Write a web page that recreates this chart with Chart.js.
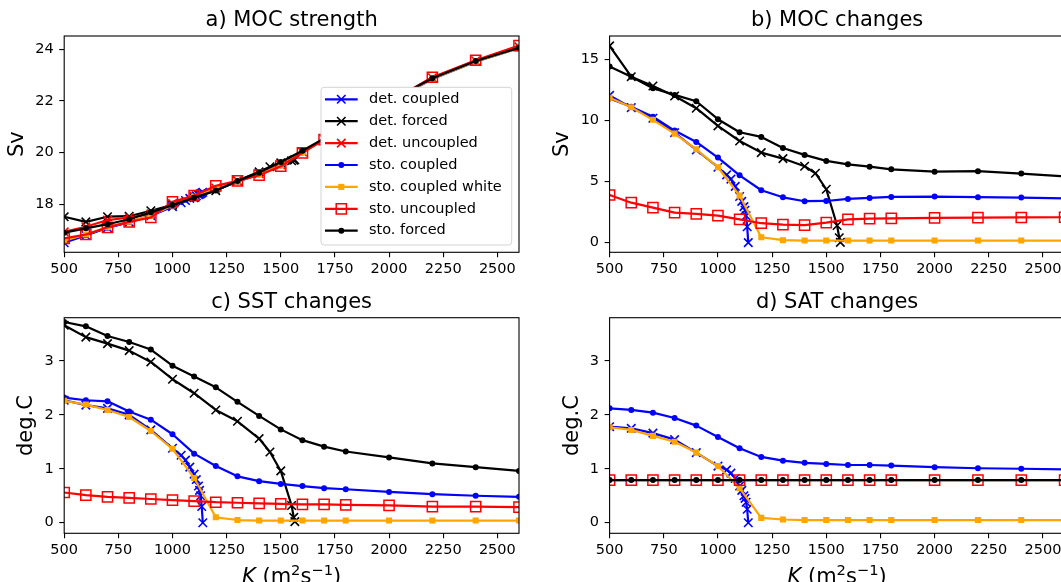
<!DOCTYPE html>
<html>
<head>
<meta charset="utf-8">
<script src="https://cdn.jsdelivr.net/npm/chart.js@4.4.1/dist/chart.umd.min.js"></script>
<style>
  html, body { margin: 0; padding: 0; background: #fff; overflow: hidden; }
  #fig { position: relative; width: 1061px; height: 582px; overflow: hidden; background: #fff; }
  #fig canvas { position: absolute; }
</style>
</head>
<body>
<div id="fig">
  <canvas id="pa" width="530" height="290" style="left:0px;top:0px;width:530px;height:290px"></canvas>
  <canvas id="pb" width="545" height="290" style="left:530px;top:0px;width:545px;height:290px"></canvas>
  <canvas id="pc" width="530" height="292" style="left:0px;top:290px;width:530px;height:292px"></canvas>
  <canvas id="pd" width="545" height="292" style="left:530px;top:290px;width:545px;height:292px"></canvas>
</div>
<script>
// ---- diffusivity values (m^2 s^-1) ----
const kSto = [500, 600, 700, 800, 900, 1000, 1100, 1200, 1300, 1400, 1500, 1600, 1700, 1800, 2000, 2200, 2400, 2600];
const kDetCoupled = [500, 600, 700, 800, 900, 1000, 1040, 1060, 1080, 1100, 1110, 1120, 1125, 1130, 1135, 1140];
const kDetForced = [500, 600, 700, 800, 900, 1000, 1100, 1200, 1300, 1400, 1450, 1500, 1550, 1560, 1565];
const kDetUncoupled = [500, 600, 700, 800, 900, 1000, 1100, 1200, 1300, 1400, 1500, 1600, 1700, 1800, 2000, 2200, 2400, 2600];

// ---- a) MOC strength (Sv) ----
const mocDetCoupled = [16.5, 16.78, 17.08, 17.3, 17.55, 17.9, 18.05, 18.14, 18.22, 18.28, 18.32, 18.36, 18.38, 18.4, 18.43, 18.46];
const mocDetForced = [17.51, 17.31, 17.51, 17.53, 17.74, 17.97, 18.25, 18.52, 18.9, 19.25, 19.45, 19.6, 19.68, 19.7, 19.72];
const mocDetUncoupled = [16.92, 17.12, 17.38, 17.48, 17.62, 18.02, 18.3, 18.62, 18.9, 19.18, 19.52, 20.02, 20.52, 21.0, 21.95, 22.9, 23.56, 24.1];
const mocStoCoupled = [16.55, 16.8, 17.08, 17.3, 17.55, 17.92, 18.25, 18.55, 18.87, 19.15, 19.5, 20.0, 20.5, 20.98, 21.93, 22.85, 23.52, 24.05];
const mocStoWhite = [16.58, 16.82, 17.1, 17.32, 17.55, 17.95, 18.28, 18.6, 18.88, 19.15, 19.5, 20.0, 20.5, 20.98, 21.93, 22.86, 23.53, 24.05];
const mocStoUncoupled = [16.67, 16.82, 17.1, 17.31, 17.48, 18.09, 18.33, 18.71, 18.9, 19.12, 19.47, 19.99, 20.5, 20.98, 21.95, 22.92, 23.58, 24.15];
const mocStoForced = [16.89, 17.06, 17.22, 17.41, 17.68, 17.96, 18.25, 18.53, 18.9, 19.23, 19.63, 20.07, 20.55, 21.02, 21.98, 22.88, 23.55, 24.06];

// ---- b) MOC changes (Sv) ----
const dMocDetCoupled = [12.05, 11.05, 10.18, 9.0, 7.58, 6.17, 5.55, 5.2, 4.6, 3.78, 3.38, 2.95, 2.65, 2.2, 1.3, 0.0];
const dMocDetForced = [16.1, 13.58, 12.82, 12.0, 11.0, 9.55, 8.32, 7.37, 6.88, 6.25, 5.68, 4.37, 1.4, 0.4, 0.02];
const dMocStoCoupled = [11.8, 11.13, 10.31, 9.17, 8.24, 6.96, 5.51, 4.29, 3.71, 3.39, 3.41, 3.58, 3.66, 3.74, 3.77, 3.72, 3.69, 3.62];
const dMocStoWhite = [11.85, 11.08, 10.05, 8.92, 7.64, 6.17, 3.85, 0.44, 0.2, 0.17, 0.17, 0.17, 0.17, 0.17, 0.17, 0.17, 0.17, 0.17];
const dMocStoUncoupled = [3.9, 3.27, 2.87, 2.46, 2.35, 2.21, 1.91, 1.59, 1.48, 1.44, 1.64, 1.9, 1.96, 1.99, 2.02, 2.05, 2.06, 2.08];
const dMocStoForced = [14.42, 13.58, 12.63, 12.09, 11.57, 10.1, 9.03, 8.65, 7.75, 7.18, 6.69, 6.41, 6.22, 6.0, 5.81, 5.85, 5.65, 5.43];

// ---- c) SST changes (deg.C) ----
const dSstDetCoupled = [2.27, 2.18, 2.12, 2.0, 1.72, 1.38, 1.25, 1.16, 1.03, 0.9, 0.8, 0.68, 0.6, 0.5, 0.3, 0.0];
const dSstDetForced = [3.66, 3.44, 3.32, 3.19, 2.98, 2.66, 2.4, 2.09, 1.88, 1.56, 1.31, 0.96, 0.32, 0.1, 0.02];
const dSstStoCoupled = [2.32, 2.27, 2.25, 2.06, 1.91, 1.64, 1.28, 1.05, 0.86, 0.77, 0.72, 0.68, 0.64, 0.62, 0.57, 0.53, 0.5, 0.48];
const dSstStoWhite = [2.26, 2.19, 2.09, 1.96, 1.7, 1.37, 0.83, 0.1, 0.05, 0.04, 0.04, 0.04, 0.04, 0.04, 0.04, 0.04, 0.04, 0.04];
const dSstStoUncoupled = [0.56, 0.51, 0.48, 0.46, 0.44, 0.42, 0.4, 0.38, 0.37, 0.36, 0.35, 0.34, 0.34, 0.33, 0.32, 0.3, 0.3, 0.29];
const dSstStoForced = [3.72, 3.64, 3.46, 3.35, 3.21, 2.91, 2.71, 2.51, 2.24, 1.98, 1.73, 1.53, 1.41, 1.32, 1.21, 1.1, 1.03, 0.96];

// ---- d) SAT changes (deg.C) ----
const dSatDetCoupled = [1.78, 1.75, 1.66, 1.54, 1.3, 1.05, 0.98, 0.92, 0.82, 0.68, 0.6, 0.5, 0.45, 0.38, 0.25, 0.0];
const dSatStoCoupled = [2.12, 2.09, 2.04, 1.94, 1.8, 1.59, 1.38, 1.22, 1.15, 1.11, 1.09, 1.07, 1.07, 1.06, 1.03, 1.01, 1.0, 0.99];
const dSatStoWhite = [1.77, 1.72, 1.61, 1.5, 1.3, 1.05, 0.64, 0.09, 0.06, 0.05, 0.05, 0.05, 0.05, 0.05, 0.05, 0.05, 0.05, 0.05];
const dSatStoUncoupled = [0.79, 0.79, 0.79, 0.79, 0.79, 0.79, 0.79, 0.79, 0.79, 0.79, 0.79, 0.79, 0.79, 0.79, 0.79, 0.79, 0.79, 0.79];
const dSatStoForced = [0.79, 0.79, 0.79, 0.79, 0.79, 0.79, 0.79, 0.79, 0.79, 0.79, 0.79, 0.79, 0.79, 0.79, 0.79, 0.79, 0.79, 0.79];

// ---- axis ticks, limits and text ----
const kTicks = [500, 750, 1000, 1250, 1500, 1750, 2000, 2250, 2500];
const kLimits = [500, 2600];
const mocTicks = [18, 20, 22, 24];
const mocLimits = [16.13, 24.52];
const dMocTicks = [0, 5, 10, 15];
const dMocLimits = [-0.79, 16.91];
const tempTicks = [0, 1, 2, 3];
const tempLimits = [-0.196, 3.8];
const panelTitles = ['a) MOC strength', 'b) MOC changes', 'c) SST changes', 'd) SAT changes'];
const yLabels = ['Sv', 'Sv', 'deg.C', 'deg.C'];

// ---- line / marker styles per experiment ----
const FONT = '"DejaVu Sans", "Liberation Sans", sans-serif';
const styles = {
  detCoupled:   { label: 'det. coupled',       color: '#0000ff', point: 'crossRot', r: 6,   pbw: 1.6 },
  detForced:    { label: 'det. forced',        color: '#000000', point: 'crossRot', r: 6,   pbw: 1.6 },
  detUncoupled: { label: 'det. uncoupled',     color: '#ff0000', point: 'crossRot', r: 6,   pbw: 1.6 },
  stoCoupled:   { label: 'sto. coupled',       color: '#0000ff', point: 'circle',   r: 3,   pbw: 0 },
  stoWhite:     { label: 'sto. coupled white', color: '#ffa500', point: 'rect',     r: 4.3, pbw: 0 },
  stoUncoupled: { label: 'sto. uncoupled',     color: '#ff0000', point: 'rect',     r: 7.2, pbw: 1.5, hollow: true },
  stoForced:    { label: 'sto. forced',        color: '#000000', point: 'circle',   r: 3,   pbw: 0 }
};
const plotOrder = ['detCoupled', 'detForced', 'detUncoupled', 'stoCoupled', 'stoWhite', 'stoUncoupled', 'stoForced'];

function makeDataset(key, ks, vals) {
  const s = styles[key];
  return {
    label: s.label,
    data: ks.map((k, i) => ({ x: k, y: vals[i] })),
    borderColor: s.color,
    backgroundColor: s.color,
    borderWidth: 2.2,
    borderJoinStyle: 'round',
    pointStyle: s.point,
    pointRadius: s.r,
    pointHoverRadius: s.r,
    pointBorderWidth: s.pbw,
    pointBorderColor: s.color,
    pointBackgroundColor: s.hollow ? 'rgba(0,0,0,0)' : s.color,
    tension: 0,
    fill: false,
    clip: 0,
    // later experiments are drawn on top
    order: plotOrder.length - 1 - plotOrder.indexOf(key)
  };
}

// full box around each axes
const framePlugin = {
  id: 'axesFrame',
  afterDatasetsDraw(chart) {
    const { ctx, chartArea: a } = chart;
    ctx.save();
    ctx.strokeStyle = '#000';
    ctx.lineWidth = 1.1;
    ctx.strokeRect(a.left, a.top, a.right - a.left, a.bottom - a.top);
    ctx.restore();
  }
};

// legend drawn inside the lower-right corner of the axes
const boxLegendPlugin = {
  id: 'boxLegend',
  afterDatasetsDraw(chart, args, opts) {
    if (!opts.display) return;
    const { ctx, chartArea: a } = chart;
    const w = 190.7, h = 157.7, inset = 7.3;
    const x0 = a.right - inset - w, y0 = a.bottom - inset - h;
    ctx.save();
    ctx.beginPath();
    ctx.roundRect(x0, y0, w, h, 3);
    ctx.fillStyle = '#ffffff';
    ctx.fill();
    ctx.strokeStyle = '#d4d4d4';
    ctx.lineWidth = 1;
    ctx.stroke();
    chart.data.datasets.forEach((ds, i) => {
      const y = y0 + 12 + i * 21.9;
      ctx.beginPath();
      ctx.moveTo(x0 + 4, y);
      ctx.lineTo(x0 + 36.7, y);
      ctx.strokeStyle = ds.borderColor;
      ctx.lineWidth = ds.borderWidth;
      ctx.stroke();
      ctx.fillStyle = ds.pointBackgroundColor;
      ctx.strokeStyle = ds.pointBorderColor;
      ctx.lineWidth = ds.pointBorderWidth;
      Chart.helpers.drawPoint(ctx, {
        pointStyle: ds.pointStyle, radius: ds.pointRadius,
        borderWidth: ds.pointBorderWidth, rotation: 0
      }, x0 + 20.3, y);
      ctx.fillStyle = '#000';
      ctx.font = '14.5px ' + FONT;
      ctx.textAlign = 'left';
      ctx.textBaseline = 'middle';
      ctx.fillText(ds.label, x0 + 48, y);
    });
    ctx.restore();
  }
};

// x-axis label with italic K and superscript units
const kLabelPlugin = {
  id: 'kLabel',
  afterDraw(chart, args, opts) {
    if (!opts.display) return;
    const { ctx, chartArea: a } = chart;
    const big = 21, small = 14.7, rise = 8.5;
    const parts = [
      { t: 'K', font: 'italic ' + big + 'px ' + FONT, dy: 0 },
      { t: ' (m', font: big + 'px ' + FONT, dy: 0 },
      { t: '2', font: small + 'px ' + FONT, dy: -rise },
      { t: 's', font: big + 'px ' + FONT, dy: 0 },
      { t: '\u22121', font: small + 'px ' + FONT, dy: -rise },
      { t: ')', font: big + 'px ' + FONT, dy: 0 }
    ];
    ctx.save();
    let total = 0;
    parts.forEach(p => { ctx.font = p.font; p.w = ctx.measureText(p.t).width; total += p.w; });
    let x = (a.left + a.right) / 2 - total / 2;
    const base = a.bottom + opts.offset;
    ctx.fillStyle = '#000';
    ctx.textAlign = 'left';
    ctx.textBaseline = 'alphabetic';
    parts.forEach(p => { ctx.font = p.font; ctx.fillText(p.t, x, base + p.dy); x += p.w; });
    ctx.restore();
  }
};

function tickSetter(values) {
  return scale => { scale.ticks = values.map(v => ({ value: v })); };
}
const plainNumber = v => String(v);

function makePanel(spec) {
  const datasets = spec.series.map(s => makeDataset(s[0], s[1], s[2]));
  return new Chart(document.getElementById(spec.canvas), {
    type: 'line',
    data: { datasets },
    plugins: [framePlugin, boxLegendPlugin, kLabelPlugin],
    options: {
      responsive: false,
      animation: false,
      devicePixelRatio: 1,
      events: [],
      layout: { padding: spec.pad },
      plugins: {
        legend: { display: false },
        tooltip: { enabled: false },
        title: {
          display: true, text: spec.title, color: '#000', fullSize: false,
          font: { family: FONT, size: 21, weight: 'normal', lineHeight: 1.2 },
          padding: { top: 0, bottom: spec.titleGap }
        },
        boxLegend: { display: !!spec.legend },
        kLabel: { display: !!spec.xLabel, offset: 50 }
      },
      scales: {
        x: {
          type: 'linear', min: kLimits[0], max: kLimits[1],
          afterBuildTicks: tickSetter(kTicks),
          afterFit: s => { s.height = spec.xAxisH; },
          grid: { drawOnChartArea: false, drawTicks: true, tickLength: 5, color: '#000', lineWidth: 1.1 },
          border: { display: false },
          ticks: { color: '#000', font: { family: FONT, size: 14.5 }, padding: 3, maxRotation: 0, autoSkip: false, callback: plainNumber }
        },
        y: {
          type: 'linear', min: spec.yLimits[0], max: spec.yLimits[1],
          afterBuildTicks: tickSetter(spec.yTicks),
          afterFit: s => { s.width = 60; },
          grid: { drawOnChartArea: false, drawTicks: true, tickLength: 5, color: '#000', lineWidth: 1.1 },
          border: { display: false },
          ticks: { color: '#000', font: { family: FONT, size: 14.5 }, padding: 5.5, autoSkip: false, callback: plainNumber },
          title: {
            display: true, text: spec.yLabel, color: '#000',
            font: { family: FONT, size: 21, lineHeight: 1.2 },
            padding: { top: spec.yTitlePad, bottom: 0 }
          }
        }
      }
    }
  });
}

const panels = [
  {
    canvas: 'pa', title: panelTitles[0], yLabel: yLabels[0], yLimits: mocLimits, yTicks: mocTicks,
    pad: { left: 4.2, top: 7.7, right: 11, bottom: 0 }, titleGap: 3.1, xAxisH: 37.7, yTitlePad: 0.6,
    legend: true, xLabel: false,
    series: [
      ['detCoupled', kDetCoupled, mocDetCoupled],
      ['detForced', kDetForced, mocDetForced],
      ['detUncoupled', kDetUncoupled, mocDetUncoupled],
      ['stoCoupled', kSto, mocStoCoupled],
      ['stoWhite', kSto, mocStoWhite],
      ['stoUncoupled', kSto, mocStoUncoupled],
      ['stoForced', kSto, mocStoForced]
    ]
  },
  {
    canvas: 'pb', title: panelTitles[1], yLabel: yLabels[1], yLimits: dMocLimits, yTicks: dMocTicks,
    pad: { left: 19.6, top: 7.7, right: 10.4, bottom: 0 }, titleGap: 3.1, xAxisH: 37.7, yTitlePad: 0.8,
    legend: false, xLabel: false,
    series: [
      ['detCoupled', kDetCoupled, dMocDetCoupled],
      ['detForced', kDetForced, dMocDetForced],
      ['stoCoupled', kSto, dMocStoCoupled],
      ['stoWhite', kSto, dMocStoWhite],
      ['stoUncoupled', kSto, dMocStoUncoupled],
      ['stoForced', kSto, dMocStoForced]
    ]
  },
  {
    canvas: 'pc', title: panelTitles[2], yLabel: yLabels[2], yLimits: tempLimits, yTicks: tempTicks,
    pad: { left: 4.2, top: 0, right: 11, bottom: 0 }, titleGap: 2.5, xAxisH: 48.7, yTitlePad: 10.2,
    legend: false, xLabel: true,
    series: [
      ['detCoupled', kDetCoupled, dSstDetCoupled],
      ['detForced', kDetForced, dSstDetForced],
      ['stoCoupled', kSto, dSstStoCoupled],
      ['stoWhite', kSto, dSstStoWhite],
      ['stoUncoupled', kSto, dSstStoUncoupled],
      ['stoForced', kSto, dSstStoForced]
    ]
  },
  {
    canvas: 'pd', title: panelTitles[3], yLabel: yLabels[3], yLimits: tempLimits, yTicks: tempTicks,
    pad: { left: 19.6, top: 0, right: 10.4, bottom: 0 }, titleGap: 2.5, xAxisH: 48.7, yTitlePad: 10.1,
    legend: false, xLabel: true,
    series: [
      ['detCoupled', kDetCoupled, dSatDetCoupled],
      ['stoCoupled', kSto, dSatStoCoupled],
      ['stoWhite', kSto, dSatStoWhite],
      ['stoUncoupled', kSto, dSatStoUncoupled],
      ['stoForced', kSto, dSatStoForced]
    ]
  }
];

panels.forEach(makePanel);
</script>
</body>
</html>
